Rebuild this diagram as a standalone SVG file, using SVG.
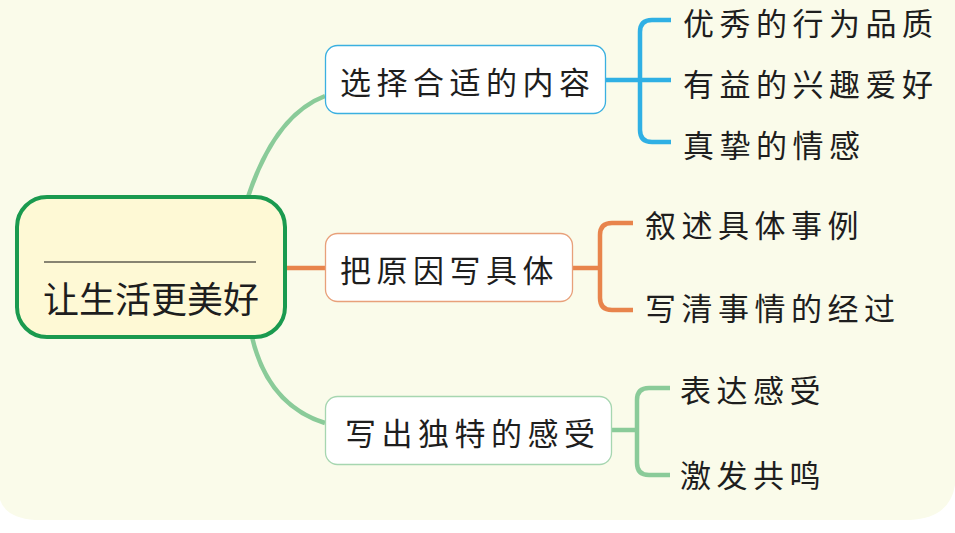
<svg xmlns="http://www.w3.org/2000/svg" width="955" height="533" viewBox="0 0 955 533">
<style>
.node{fill:#ffffff;stroke-width:1.3}
.t{font-family:"Noto Sans CJK SC","Noto Sans CJK TC",sans-serif;font-size:31px;letter-spacing:5.5px;fill:#1e1e1e;dominant-baseline:central}
.c{fill:none;stroke-width:4.5;stroke-linecap:butt}
.blue{stroke:#2fb0e4}
.orange{stroke:#e8844c}
.green{stroke:#8acb99}
</style>
<rect x="0" y="0" width="955" height="533" fill="#ffffff"/>
<path d="M0,0 H955 V485 Q950,518 910,520 H35 Q6,518 0,500 Z" fill="#fafbea"/>
<g id="connectors">
  <path class="c green" d="M248,197 Q275,115 325,96"/>
  <path class="c green" d="M252,337 Q268,405 325,423"/>
  <path class="c orange" d="M285,268 H325"/>
  <path class="c blue" d="M606,80 H671 M671,20 H652 Q640,20 640,32 V130 Q640,142 652,142 H671"/>
  <path class="c orange" d="M573,268 H600 M633,223 H612 Q600,223 600,235 V298 Q600,310 612,310 H633"/>
  <path class="c green" d="M612,430 H637 M670,388 H649 Q637,388 637,400 V463 Q637,475 649,475 H670"/>
</g>
<g id="root">
  <rect x="17" y="197" width="268" height="140" rx="30" fill="#fef9d5" stroke="#1a9a4f" stroke-width="4"/>
  <line x1="44" y1="262" x2="256" y2="262" stroke="#111" stroke-width="1.2"/>
  <text x="151" y="297" text-anchor="middle" font-family="'Noto Sans CJK SC',sans-serif" font-size="36" font-weight="400" fill="#1e1e1e" dominant-baseline="central">让生活更美好</text>
</g>
<g id="n1">
  <rect class="node" x="325.5" y="45.5" width="280" height="68" rx="12" stroke="#3ab0e0"/>
  <text class="t" x="340" y="80">选择合适的内容</text>
</g>
<g id="n2">
  <rect class="node" x="325.5" y="233.5" width="247" height="68" rx="12" stroke="#e8a07a"/>
  <text class="t" x="340" y="268">把原因写具体</text>
</g>
<g id="n3">
  <rect class="node" x="325.5" y="396.5" width="286" height="68" rx="12" stroke="#a6d6b0"/>
  <text class="t" x="345" y="431">写出独特的感受</text>
</g>
<g id="l1"><text class="t" x="683" y="21">优秀的行为品质</text></g>
<g id="l2"><text class="t" x="683" y="82">有益的兴趣爱好</text></g>
<g id="l3"><text class="t" x="683" y="143">真挚的情感</text></g>
<g id="l4"><text class="t" x="645" y="223">叙述具体事例</text></g>
<g id="l5"><text class="t" x="645" y="306">写清事情的经过</text></g>
<g id="l6"><text class="t" x="680" y="388">表达感受</text></g>
<g id="l7"><text class="t" x="680" y="473">激发共鸣</text></g>
</svg>
